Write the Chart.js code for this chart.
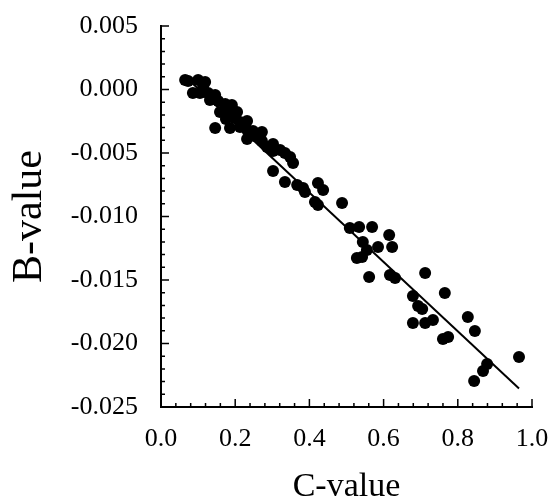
<!DOCTYPE html>
<html>
<head>
<meta charset="utf-8">
<script src="https://cdn.jsdelivr.net/npm/chart.js@4"></script>
<style>
  html, body { margin: 0; padding: 0; background: #fff; }
  #wrap { width: 549px; height: 502px; }
</style>
</head>
<body>
<div id="wrap"><canvas id="chart"></canvas></div>
<script>
// measured points (C-value, B-value)
const cValues = [
  0.065, 0.073, 0.100, 0.113, 0.119, 0.086, 0.105, 0.127, 0.146, 0.132,
  0.154, 0.173, 0.191, 0.159, 0.181, 0.205, 0.175, 0.199, 0.213, 0.232,
  0.146, 0.186, 0.213, 0.232, 0.248, 0.253, 0.232, 0.272, 0.272, 0.286,
  0.302, 0.302, 0.321, 0.334, 0.348, 0.356, 0.302, 0.334, 0.367, 0.383,
  0.388, 0.423, 0.437, 0.415, 0.423, 0.488, 0.509, 0.534, 0.569, 0.615,
  0.544, 0.555, 0.585, 0.623, 0.528, 0.542, 0.561, 0.617, 0.631, 0.712,
  0.679, 0.693, 0.704, 0.679, 0.712, 0.733, 0.765, 0.827, 0.846, 0.760,
  0.774, 0.879, 0.868, 0.844, 0.965
];
const bValues = [
  0.00075, 0.00067, 0.00075, 0.00012, 0.00059, -0.00028, -0.00028, -0.00028, -0.00043, -0.00083,
  -0.00091, -0.00114, -0.00122, -0.00177, -0.00177, -0.00177, -0.00232, -0.00224, -0.00256, -0.00248,
  -0.00303, -0.00303, -0.00295, -0.00319, -0.00327, -0.00366, -0.00390, -0.00335, -0.00406, -0.00453,
  -0.00429, -0.00484, -0.00476, -0.00500, -0.00531, -0.00579, -0.00642, -0.00728, -0.00752, -0.00776,
  -0.00807, -0.00736, -0.00791, -0.00886, -0.00909, -0.00894, -0.01091, -0.01083, -0.01083, -0.01146,
  -0.01201, -0.01264, -0.01240, -0.01240, -0.01327, -0.01319, -0.01476, -0.01461, -0.01484, -0.01445,
  -0.01626, -0.01705, -0.01728, -0.01839, -0.01839, -0.01815, -0.01602, -0.01791, -0.01902, -0.01965,
  -0.01949, -0.02161, -0.02217, -0.02295, -0.02106
];

// fitted line end points
const fitC = [0.07, 0.965];
const fitB = [0.00089, -0.02355];

// axis ticks
const xTicks = [0.0, 0.2, 0.4, 0.6, 0.8, 1.0];
const yTicks = [0.005, 0.000, -0.005, -0.010, -0.015, -0.020, -0.025];

const serif = "'Liberation Serif', 'Times New Roman', serif";

// inward major/minor tick marks like the original plot
const innerTicks = {
  id: 'innerTicks',
  afterDraw(chart) {
    const ctx = chart.ctx;
    const xs = chart.scales.x, ys = chart.scales.y;
    const left = xs.left, bottom = ys.bottom;
    ctx.save();
    ctx.strokeStyle = '#000';
    ctx.lineWidth = 1.5;
    ctx.beginPath();
    for (let i = 0; i <= 25; i++) {
      const px = xs.getPixelForValue(i * 0.04);
      const len = i % 5 === 0 ? 8 : 4;
      ctx.moveTo(px, bottom);
      ctx.lineTo(px, bottom - len);
    }
    for (let i = 0; i <= 30; i++) {
      const py = ys.getPixelForValue(-0.025 + i * 0.001);
      const len = i % 5 === 0 ? 8 : 4;
      ctx.moveTo(left, py);
      ctx.lineTo(left + len, py);
    }
    ctx.stroke();
    ctx.restore();
  }
};

const ctx = document.getElementById('chart').getContext('2d');
new Chart(ctx, {
  type: 'scatter',
  data: {
    datasets: [
      {
        label: 'data',
        data: cValues.map((c, i) => ({ x: c, y: bValues[i] })),
        backgroundColor: '#000',
        borderWidth: 0,
        pointRadius: 6,
        order: 1
      },
      {
        label: 'fit',
        data: fitC.map((c, i) => ({ x: c, y: fitB[i] })),
        showLine: true,
        borderColor: '#000',
        borderWidth: 2,
        pointRadius: 0,
        order: 2
      }
    ]
  },
  options: {
    responsive: true,
    maintainAspectRatio: false,
    animation: false,
    layout: { padding: { left: 0, right: 17, top: 26, bottom: 0 } },
    plugins: { legend: { display: false }, tooltip: { enabled: false } },
    scales: {
      x: {
        type: 'linear',
        min: 0, max: 1,
        afterFit(scale) {
          scale.height = 95;
          scale.paddingLeft = 0;
          scale.paddingRight = 0;
        },
        afterBuildTicks(scale) { scale.ticks = xTicks.map(v => ({ value: v })); },
        grid: { display: false, drawTicks: false },
        border: { display: true, color: '#000', width: 2 },
        ticks: {
          color: '#000',
          padding: 17,
          maxRotation: 0,
          font: { family: serif, size: 26 },
          callback: v => v.toFixed(1)
        },
        title: {
          display: true,
          text: 'C-value',
          color: '#000',
          font: { family: serif, size: 34, lineHeight: 0.9 },
          padding: { top: 0, bottom: 0 }
        }
      },
      y: {
        type: 'linear',
        min: -0.025, max: 0.005,
        afterFit(scale) {
          scale.width = 161;
          scale.paddingTop = 0;
          scale.paddingBottom = 0;
        },
        afterBuildTicks(scale) { scale.ticks = yTicks.map(v => ({ value: v })); },
        grid: { display: false, drawTicks: false },
        border: { display: true, color: '#000', width: 2 },
        ticks: {
          color: '#000',
          padding: 23,
          font: { family: serif, size: 26 },
          callback: v => v.toFixed(3)
        },
        title: {
          display: true,
          text: 'B-value',
          color: '#000',
          font: { family: serif, size: 42, lineHeight: 1.2 },
          padding: { top: 5, bottom: 0 }
        }
      }
    }
  },
  plugins: [innerTicks]
});
</script>
</body>
</html>
